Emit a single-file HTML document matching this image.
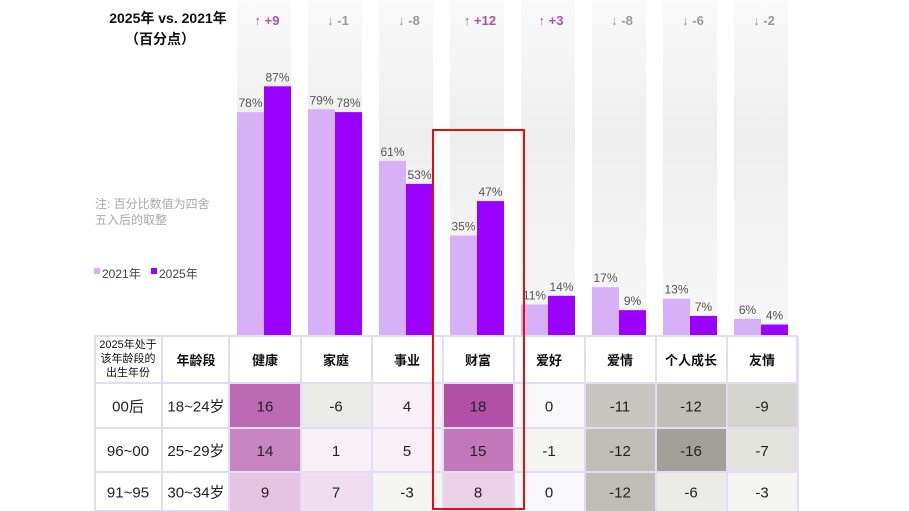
<!DOCTYPE html>
<html><head><meta charset="utf-8">
<style>
body{margin:0;width:909px;height:511px;overflow:hidden;background:#fff;font-family:"Liberation Sans","Noto Sans CJK SC",sans-serif;}
svg{position:absolute;left:0;top:0}
</style></head><body>
<svg id="c" width="909" height="511">
<defs><linearGradient id="bg" x1="0" y1="0" x2="0" y2="1"><stop offset="0" stop-color="#fafafa"/><stop offset="0.4" stop-color="#eeeeee"/><stop offset="1" stop-color="#f8f8f8"/></linearGradient></defs>
<text x="168" y="23" text-anchor="middle" font-size="14" font-weight="bold" fill="#111">2025年 vs. 2021年</text>
<text x="160" y="44" text-anchor="middle" font-size="14" font-weight="bold" fill="#111">（百分点）</text>
<text x="95" y="208" font-size="12" fill="#aaa">注: 百分比数值为四舍</text>
<text x="95" y="224" font-size="12" fill="#aaa">五入后的取整</text>
<rect x="94" y="268" width="6" height="6" fill="#d8b0f8"/>
<text x="102" y="278" font-size="12" fill="#444">2021年</text>
<rect x="151" y="268" width="6" height="6" fill="#9900ff"/>
<text x="159" y="278" font-size="12" fill="#444">2025年</text>
<g id="bars"></g>
<g id="tbl"></g>
<rect x="433" y="130" width="91" height="379" fill="none" stroke="#e01010" stroke-width="2"/>
</svg>
<script>
const categories=["健康","家庭","事业","财富","爱好","爱情","个人成长","友情"];
const v2021=[78,79,61,35,11,17,13,6];
const v2025=[87,78,53,47,14,9,7,4];
const deltas=[9,-1,-8,12,3,-8,-6,-2];
const birth=["00后","96~00","91~95"];
const ages=["18~24岁","25~29岁","30~34岁"];
const heat=[[16,-6,4,18,0,-11,-12,-9],[14,1,5,15,-1,-12,-16,-7],[9,7,-3,8,0,-12,-6,-3]];
const NS="http://www.w3.org/2000/svg";
function mk(t,a,p){const e=document.createElementNS(NS,t);for(const k in a)e.setAttribute(k,a[k]);p.appendChild(e);return e;}
const colX=i=>230+i*71.0;
const base=336, k=2.87;
const y=v=>base-v*k;
const bars=document.getElementById('bars');
categories.forEach((c,i)=>{
 const x0=colX(i)+7;
 const bg=mk('rect',{x:x0,y:0,width:54,height:base,fill:'url(#bg)'},bars);
 
 
 const b1=mk('rect',{x:x0,y:y(v2021[i]),width:27,height:v2021[i]*k,fill:'#d8b0f8'},bars);
 
 
 const b2=mk('rect',{x:x0+27,y:y(v2025[i]),width:27,height:v2025[i]*k,fill:'#9900ff'},bars);
 
 
 const t1=mk('text',{x:x0+13.5,y:y(v2021[i])-5,'text-anchor':'middle','font-size':12,fill:'#555'},bars);t1.textContent=v2021[i]+'%';
 
 
 const t2=mk('text',{x:x0+40.5,y:y(v2025[i])-5,'text-anchor':'middle','font-size':12,fill:'#555'},bars);t2.textContent=v2025[i]+'%';
 
 
 const d=deltas[i],up=d>0,col=up?'#b050b0':'#999';
 const dt=mk('text',{x:x0+30,y:25,'text-anchor':'middle','font-size':13,'font-weight':'bold',fill:col},bars);
 dt.textContent=(up?'↑ +':'↓ ')+d;
 
 
});
const tbl=document.getElementById('tbl');
const rows=[336,383,428,472,511];
function mix(a,b,f){return `rgb(${a.map((q,j)=>Math.round(q+(b[j]-q)*f)).join(',')})`;}
function color(v){
 if(v>0){const t=Math.min(v/18,1);const f=Math.max(0,(t-0.3)/0.7);return mix([249,243,249],[178,80,168],Math.max(f,0.02));}
 if(v<0){const t=Math.min(-v/16,1);const f=Math.max(0,(t-0.3)/0.7);return mix([244,244,240],[162,161,153],f);}
 return '#f8f8fb';
}
const grid='#e4dcf4';
mk('rect',{x:95,y:336,width:702,height:175,fill:'#fff',stroke:grid,'stroke-width':2},tbl);
const h1=mk('text',{x:128,y:348,'text-anchor':'middle','font-size':11,fill:'#111'},tbl);h1.textContent='2025年处于';
const h2=mk('text',{x:128,y:362,'text-anchor':'middle','font-size':11,fill:'#111'},tbl);h2.textContent='该年龄段的';
const h3=mk('text',{x:128,y:376,'text-anchor':'middle','font-size':11,fill:'#111'},tbl);h3.textContent='出生年份';
const h4=mk('text',{x:196,y:365,'text-anchor':'middle','font-size':13,'font-weight':'bold',fill:'#111'},tbl);h4.textContent='年龄段';
[h1,h2,h3,h4].forEach((e,i)=>{});
categories.forEach((c,i)=>{
 const t=mk('text',{x:colX(i)+35,y:365,'text-anchor':'middle','font-size':13,'font-weight':'bold',fill:'#111'},tbl);t.textContent=c;
 
 
});
heat.forEach((r,ri)=>{
 const y0=rows[ri+1],h=rows[ri+2]-y0,cy=y0+h/2+6;
 const b=mk('text',{x:128,y:cy,'text-anchor':'middle','font-size':15,fill:'#222'},tbl);b.textContent=birth[ri];
 
 
 const a=mk('text',{x:196,y:cy,'text-anchor':'middle','font-size':15,fill:'#222'},tbl);a.textContent=ages[ri];
 
 
 r.forEach((v,ci)=>{
  const cell=mk('rect',{x:colX(ci),y:y0,width:70,height:h,fill:color(v)},tbl);
  
  
  const t=mk('text',{x:colX(ci)+35,y:cy,'text-anchor':'middle','font-size':15,fill:'#222'},tbl);t.textContent=v;
  
  
 });
});
[162,229].concat(categories.map((c,i)=>colX(i+1))).forEach(x=>mk('line',{x1:x,y1:336,x2:x,y2:511,stroke:grid,'stroke-width':2},tbl));
rows.slice(1,4).forEach(yy=>mk('line',{x1:95,y1:yy,x2:797,y2:yy,stroke:grid,'stroke-width':2},tbl));
</script>
</body></html>
